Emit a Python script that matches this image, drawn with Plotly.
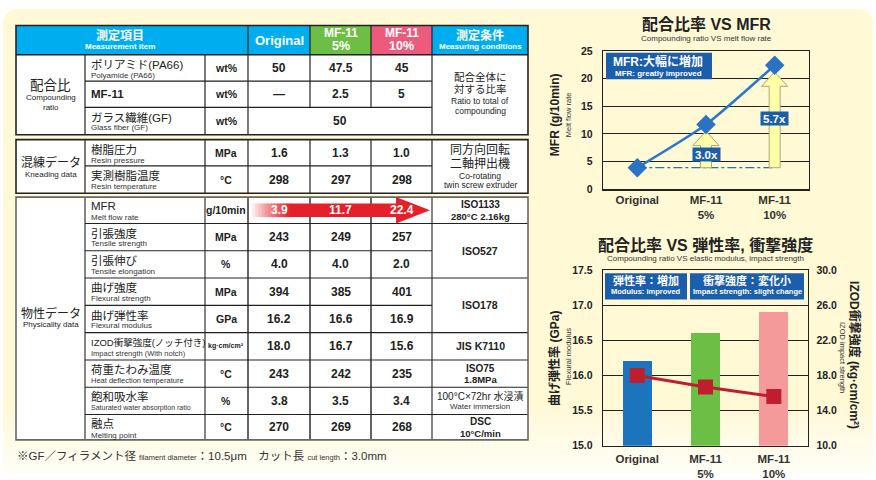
import plotly.graph_objects as go

W, H = 876, 480
FONT = "Liberation Sans, Noto Sans CJK JP, sans-serif"

# ---------------- data ----------------
sample_ticks = ["Original", "MF-11<br>5%", "MF-11<br>10%"]
header_colors = ["#00AEEF", "#6DBE45", "#EE5A7E"]

mfr = [3.9, 11.7, 22.4]
flex_modulus = [16.2, 16.6, 16.9]
izod_impact = [18.0, 16.7, 15.6]
bar_colors = ["#1C75BC", "#6CBF45", "#F49A9B"]

comp_jp = ["ポリアミド(PA66)", "MF-11", "ガラス繊維(GF)"]
comp_en = ["Polyamide (PA66)", "", "Glass fiber (GF)"]
comp_unit = ["wt%", "wt%", "wt%"]
polyamide_wt = ["50", "47.5", "45"]
mf11_wt = ["—", "2.5", "5"]
glass_fiber_wt = "50"

knead_jp = ["樹脂圧力", "実測樹脂温度"]
knead_en = ["Resin pressure", "Resin temperature"]
knead_unit = ["MPa", "°C"]
resin_pressure = [1.6, 1.3, 1.0]
resin_temperature = [298, 297, 298]

phys_jp = ["MFR", "引張強度", "引張伸び", "曲げ強度", "曲げ弾性率",
           "IZOD衝撃強度(ノッチ付き)", "荷重たわみ温度", "飽和吸水率", "融点"]
phys_en = ["Melt flow rate", "Tensile strength", "Tensile elongation", "Flexural strength",
           "Flexural modulus", "Impact strength (With notch)", "Heat deflection temperature",
           "Saturated water absorption ratio", "Melting point"]
phys_unit = ["g/10min", "MPa", "%", "MPa", "GPa", "kg·cm/cm²", "°C", "%", "°C"]
tensile_strength = [243, 249, 257]
tensile_elongation = [4.0, 4.0, 2.0]
flexural_strength = [394, 385, 401]
heat_deflection = [243, 242, 235]
water_absorption = [3.8, 3.5, 3.4]
melting_point = [270, 269, 268]

cond_comp_jp = ["配合全体に", "対する比率"]
cond_comp_en = ["Ratio to total of", "compounding"]
cond_knead_jp = ["同方向回転", "二軸押出機"]
cond_knead_en = ["Co-rotating", "twin screw extruder"]
phys_cond = [["ISO1133", "280°C 2.16kg"], ["ISO527"], ["ISO178"], ["JIS K7110"],
             ["ISO75", "1.8MPa"], ["100°C×72hr 水浸漬", "Water immersion"], ["DSC", "10°C/min"]]
phys_cond_span = [1, 2, 2, 1, 1, 1, 1]

# ---------------- helpers (pixel layout) ----------------
def px(x):
    return x / W

def py(y):
    return 1 - y / H

shapes = []
anns = []

def rect(x0, y0, x1, y1, fill, line=None, lw=0, layer="below", opacity=1.0):
    shapes.append(dict(type="rect", xref="paper", yref="paper",
                       x0=px(x0), x1=px(x1), y0=py(y1), y1=py(y0),
                       fillcolor=fill, line=dict(color=line or "rgba(0,0,0,0)", width=lw),
                       layer=layer, opacity=opacity))

def seg(x0, y0, x1, y1, color="#222", w=1.2):
    shapes.append(dict(type="line", xref="paper", yref="paper",
                       x0=px(x0), x1=px(x1), y0=py(y0), y1=py(y1),
                       line=dict(color=color, width=w), layer="above"))

def text(x, y, s, size=12, color="#222", bold=False, xanchor="center", angle=0):
    anns.append(dict(xref="paper", yref="paper", x=px(x), y=py(y), text=s, showarrow=False,
                     xanchor=xanchor, yanchor="middle", textangle=angle, borderpad=0,
                     font=dict(family=FONT, size=size, color=color, weight=700 if bold else 400)))

# ---------------- background ----------------
r = 16
L, R, T, B = 3, 873, 3, 480
bg_path = (f"M {px(L+r)} {py(T)} L {px(R-r)} {py(T)} Q {px(R)} {py(T)} {px(R)} {py(T+r)} "
           f"L {px(R)} {py(B)} L {px(L)} {py(B)} L {px(L)} {py(T+r)} Q {px(L)} {py(T)} {px(L+r)} {py(T)} Z")
shapes.append(dict(type="path", xref="paper", yref="paper", path=bg_path,
                   fillcolor="#FFF9D6", line=dict(width=0), layer="below"))
for i in range(14):
    rect(0, 410 + i * 5, W, 415 + i * 5, "white", layer="below", opacity=0.06 + i * 0.055)

# ---------------- table geometry ----------------
cols = [16, 85, 205, 248, 310, 371, 432, 528]
vc = [(cols[3] + cols[4]) / 2, (cols[4] + cols[5]) / 2, (cols[5] + cols[6]) / 2]
uc = (cols[2] + cols[3]) / 2
cc = (cols[6] + cols[7]) / 2
gc = (cols[0] + cols[1]) / 2
hdr = (20, 50)
g1 = [50, 77, 104, 132]
g2 = [137, 164, 192]
g3 = [196, 223, 251, 279, 307, 335, 363, 391, 419, 445]
DARK = "#222"

rect(cols[0], hdr[0], cols[3], hdr[1], "#00AEEF")
for i in range(3):
    rect(cols[3 + i], hdr[0], cols[4 + i], hdr[1], header_colors[i])
rect(cols[6], hdr[0], cols[7], hdr[1], "#00AEEF")
rect(cols[0], g1[0], cols[7], g1[-1], "white")
rect(cols[0], g2[0], cols[7], g2[-1], "white")
rect(cols[0], g3[0], cols[7], g3[-1], "white")

for x in cols[3:7]:
    seg(x, hdr[0], x, hdr[1])
seg(cols[0], hdr[1], cols[7], hdr[1], DARK, 1.4)
for x in [cols[1], cols[2], cols[3], cols[6]]:
    seg(x, g1[0], x, g1[-1])
for x in [cols[4], cols[5]]:
    seg(x, g1[0], x, g1[2])
for y in g1[1:-1]:
    seg(cols[1], y, cols[6], y)
for x in cols[1:7]:
    seg(x, g2[0], x, g2[-1])
for y in g2[1:-1]:
    seg(cols[1], y, cols[6], y)
for x in cols[1:7]:
    seg(x, g3[0], x, g3[-1], DARK, 1.4 if x in cols[3:6] else 1.1)
for y in g3[1:-1]:
    seg(cols[1], y, cols[6], y, DARK, 1.1)
acc = 0
for s in phys_cond_span[:-1]:
    acc += s
    seg(cols[6], g3[acc], cols[7], g3[acc], DARK, 1.1)

for (y0, y1, col) in [(hdr[0], g1[-1], DARK), (g2[0], g2[-1], DARK), (g3[0], g3[-1], "#666")]:
    shapes.append(dict(type="rect", xref="paper", yref="paper", x0=px(cols[0]), x1=px(cols[7]),
                       y0=py(y1), y1=py(y0), fillcolor="rgba(0,0,0,0)",
                       line=dict(color=col, width=1.6), layer="above"))

# MFR arrow in table (white-to-red gradient body + head)
red = (229, 32, 41)
ax0, ax1, ahead, atip = 252, 290, 396, 430
mfr_row_mid = (g3[0] + g3[1]) / 2
n = 12
for i in range(n):
    t = ((i + 0.5) / n) ** 0.8
    c = tuple(round(255 + (red[k] - 255) * t) for k in range(3))
    x0 = ax0 + (ax1 - ax0) * i / n
    x1 = ax0 + (ax1 - ax0) * (i + 1) / n + 0.5
    shapes.append(dict(type="rect", xref="paper", yref="paper", x0=px(x0), x1=px(x1),
                       y0=py(mfr_row_mid + 7), y1=py(mfr_row_mid - 7),
                       fillcolor=f"rgb{c}", line=dict(width=0), layer="above"))
shapes.append(dict(type="rect", xref="paper", yref="paper", x0=px(ax1), x1=px(ahead + 1),
                   y0=py(mfr_row_mid + 7), y1=py(mfr_row_mid - 7),
                   fillcolor=f"rgb{red}", line=dict(width=0), layer="above"))
shapes.append(dict(type="path", xref="paper", yref="paper",
                   path=f"M {px(ahead)} {py(mfr_row_mid-13.5)} L {px(atip)} {py(mfr_row_mid)} L {px(ahead)} {py(mfr_row_mid+13.5)} Z",
                   fillcolor=f"rgb{red}", line=dict(width=0), layer="above"))

# header texts
text(120, 30, "測定項目", 12, "white", True)
text(120, 42, "Measurement item", 8, "white", True)
text(vc[0], 35, "Original", 13, "white", True)
for i in (1, 2):
    name, pct = sample_ticks[i].split("<br>")
    text(vc[i], 28, name, 12, "white", True)
    text(vc[i], 41.5, pct, 12.5, "white", True)
text(cc, 30, "測定条件", 12, "white", True)
text(cc, 42, "Measuring conditions", 8, "white", True)

# group labels
text(gc, 82, "配合比", 13.5)
text(gc, 94, "Compounding", 8)
text(gc, 104, "ratio", 8)
text(gc, 161, "混練データ", 12)
text(gc, 172.5, "Kneading data", 8)
text(gc, 315, "物性データ", 12)
text(gc, 326.5, "Physicality data", 8)

def row_label(top, bottom, jp, en, unit, jp_size=11.5, en_size=8, unit_size=10.5):
    if en:
        text(cols[1] + 5, top + 10, jp, jp_size, xanchor="left")
        text(cols[1] + 5, top + 21, en, en_size, "#333", xanchor="left")
    else:
        text(cols[1] + 5, (top + bottom) / 2, jp, jp_size, bold=True, xanchor="left")
    text(uc, (top + bottom) / 2, unit, unit_size, bold=True)

comp_values = [polyamide_wt, mf11_wt, None]
for i in range(3):
    row_label(g1[i], g1[i + 1], comp_jp[i], comp_en[i], comp_unit[i])
    mid = (g1[i] + g1[i + 1]) / 2
    if comp_values[i] is not None:
        for j in range(3):
            text(vc[j], mid, comp_values[i][j], 12, bold=True)
    else:
        text((cols[3] + cols[6]) / 2, mid, glass_fiber_wt, 12, bold=True)
text(cc, 72.5, cond_comp_jp[0], 10.5)
text(cc, 85, cond_comp_jp[1], 10.5)
text(cc, 97.5, cond_comp_en[0], 8.5)
text(cc, 107.5, cond_comp_en[1], 8.5)

knead_values = [[f"{v:.1f}" for v in resin_pressure], [str(v) for v in resin_temperature]]
for i in range(2):
    row_label(g2[i], g2[i + 1], knead_jp[i], knead_en[i], knead_unit[i])
    mid = (g2[i] + g2[i + 1]) / 2
    for j in range(3):
        text(vc[j], mid, knead_values[i][j], 12, bold=True)
text(cc, 147.5, cond_knead_jp[0], 12)
text(cc, 162, cond_knead_jp[1], 12)
text(cc, 174, cond_knead_en[0], 8.5)
text(cc, 184, cond_knead_en[1], 8.5)

phys_values = [
    [f"{v:.1f}" for v in mfr],
    [str(v) for v in tensile_strength],
    [f"{v:.1f}" for v in tensile_elongation],
    [str(v) for v in flexural_strength],
    [f"{v:.1f}" for v in flex_modulus],
    [f"{v:.1f}" for v in izod_impact],
    [str(v) for v in heat_deflection],
    [f"{v:.1f}" for v in water_absorption],
    [str(v) for v in melting_point],
]
for i in range(9):
    top, bot = g3[i], g3[i + 1]
    jp_size = 9.5 if i == 5 else 11.5
    en_size = 7 if i == 7 else (7.5 if i in (5, 6) else 8)
    unit_size = 7 if i == 5 else 10.5
    if i == 0:
        text(cols[1] + 5, top + 9.5, phys_jp[i], 11.5, xanchor="left")
        text(cols[1] + 5, top + 20.5, phys_en[i], 8, "#333", xanchor="left")
        text(uc, (top + bot) / 2, phys_unit[i], 10.5, bold=True)
    else:
        row_label(top, bot, phys_jp[i], phys_en[i], phys_unit[i], jp_size, en_size, unit_size)
    mid = (top + bot) / 2
    for j in range(3):
        text(vc[j], mid, phys_values[i][j], 12, "white" if i == 0 else "#222", True)

acc = 0
for k, (lines, span) in enumerate(zip(phys_cond, phys_cond_span)):
    top, bot = g3[acc], g3[acc + span]
    acc += span
    mid = (top + bot) / 2
    if len(lines) == 1:
        text(cc, mid, lines[0], 10.5, bold=True)
    elif k == 5:
        text(cc, mid - 4.5, lines[0], 10)
        text(cc, mid + 5.5, lines[1], 8, "#333")
    else:
        text(cc, mid - 5.5, lines[0], 10, bold=True)
        text(cc, mid + 6, lines[1], 9.5, bold=True)

# footnote
text(16, 462, "※GF／フィラメント径 <span style='font-size:7.5px'>filament diameter</span>：10.5μm　"
     "カット長 <span style='font-size:7.5px'>cut length</span>：3.0mm", 11.5, "#333", xanchor="left")

# ---------------- chart 1: MFR ----------------
fig = go.Figure()
xs = [0, 1, 2]
base = mfr[0]
fig.add_trace(go.Scatter(x=[0, 2], y=[base, base], mode="lines",
                         line=dict(color="#2A6FC0", width=1.3, dash="dashdot"),
                         xaxis="x", yaxis="y", hoverinfo="skip", showlegend=False))
gap, head_len, head_w, body_w = 1.2, 2.6, 0.19, 0.08
ratio_pos = []
for i in (1, 2):
    tip = mfr[i] - gap
    hb = tip - head_len
    ax = [i - body_w, i - body_w, i - head_w, i, i + head_w, i + body_w, i + body_w, i - body_w]
    ay = [base, hb, hb, tip, hb, hb, base, base]
    fig.add_trace(go.Scatter(x=ax, y=ay, mode="lines", fill="toself", fillcolor="#FFFFA8",
                             line=dict(color="#A9A77A", width=1), xaxis="x", yaxis="y",
                             hoverinfo="skip", showlegend=False))
    ratio_pos.append((i, base + 0.6 * (hb - base), f"{mfr[i] / mfr[0]:.1f}x"))
fig.add_trace(go.Scatter(x=xs, y=mfr, mode="lines+markers",
                         line=dict(color="#2A78C8", width=2.5, shape="spline", smoothing=0.6),
                         marker=dict(symbol="diamond", size=15, color="#2A72C2"),
                         xaxis="x", yaxis="y", showlegend=False))
for (xi, yi, lab) in ratio_pos:
    anns.append(dict(x=xi, y=yi, xref="x", yref="y", text=f"<b>{lab}</b>", showarrow=False,
                     bgcolor="#1B5EAB", borderpad=1, width=25, height=11,
                     font=dict(family=FONT, size=11.5, color="white")))

# ---------------- chart 2: modulus / impact ----------------
fig.add_trace(go.Bar(x=xs, y=flex_modulus, marker=dict(color=bar_colors, line=dict(width=0)),
                     width=0.42, xaxis="x2", yaxis="y2", showlegend=False))
fig.add_trace(go.Scatter(x=xs, y=izod_impact, mode="lines+markers",
                         line=dict(color="#BE1E2D", width=3),
                         marker=dict(symbol="square", size=15, color="#BE1E2D"),
                         xaxis="x2", yaxis="y3", showlegend=False))

# chart titles and axis titles
text(706, 19, "配合比率 VS MFR", 16, "#222", True)
text(706, 33.5, "Compounding ratio VS melt flow rate", 8, "#333")
text(555, 112, "MFR (g/10min)", 12, "#222", True, angle=-90)
text(568, 112, "Melt flow rate", 7.5, "#333", angle=-90)

text(705, 245, "配合比率 VS 弾性率, 衝撃強度", 16, "#222", True)
text(705, 259, "Compounding ratio VS elastic modulus, impact strength", 8, "#333")
text(555, 362, "曲げ弾性率 (GPa)", 12, "#222", True, angle=-90)
text(568, 360, "Flexural modulus", 7.5, "#333", angle=-90)
text(855, 358, "IZOD衝撃強度 (kg·cm/cm²)", 12, "#222", True, angle=90)
text(843, 360, "IZOD impact strength", 7.5, "#333", angle=90)

# blue info boxes
BOX = "#1B5EAB"
rect(606, 48, 712, 75, BOX, layer="above")
text(658, 56.5, "MFR:大幅に増加", 12, "white", True)
text(658, 69, "MFR: greatly improved", 8, "white", True)
rect(605, 274, 687, 301, BOX, layer="above")
text(646, 282, "弾性率：増加", 11, "white", True)
text(646, 293, "Modulus: improved", 7.5, "white", True)
rect(690, 274, 804, 301, BOX, layer="above")
text(747, 282, "衝撃強度：変化小", 11, "white", True)
text(747, 293, "Impact strength: slight change", 7.5, "white", True)

tickf = dict(family=FONT, size=10.5, color="#222", weight=700)
xcommon = dict(range=[-0.5, 2.5], tickvals=xs, ticktext=sample_ticks, showgrid=False,
               zeroline=False, showline=True, mirror=True, linecolor="#222", linewidth=1.3,
               ticks="", tickfont=dict(family=FONT, size=11.5, color="#333", weight=700),
               fixedrange=True)
fig.update_layout(
    width=W, height=H, margin=dict(l=0, r=0, t=0, b=0),
    paper_bgcolor="white", plot_bgcolor="white",
    font=dict(family=FONT),
    xaxis=dict(domain=[px(603), px(809)], anchor="y", **xcommon),
    yaxis=dict(domain=[py(188), py(46)], anchor="x", range=[0, 25], dtick=5,
               showgrid=True, gridcolor="#222", gridwidth=1, zeroline=False,
               showline=True, mirror=True, linecolor="#222", linewidth=1.3,
               ticks="", tickfont=tickf, ticklabelstandoff=7, fixedrange=True),
    xaxis2=dict(domain=[px(603), px(808)], anchor="y2", ticklabelstandoff=2, **xcommon),
    yaxis2=dict(domain=[py(451), py(271)], anchor="x2", range=[15, 17.5], dtick=0.5,
                tickformat=".1f", showgrid=True, gridcolor="#222", gridwidth=1, zeroline=False,
                showline=True, linecolor="#222", linewidth=1.3,
                ticks="", tickfont=tickf, ticklabelstandoff=7, fixedrange=True),
    yaxis3=dict(overlaying="y2", anchor="x2", side="right", range=[10, 30], tick0=10, dtick=4,
                tickformat=".1f", showgrid=False, zeroline=False, showline=True,
                linecolor="#222", linewidth=1.3, ticks="", tickfont=tickf,
                ticklabelstandoff=5, fixedrange=True),
    shapes=shapes, annotations=anns, showlegend=False, bargap=0,
)

fig.write_html("out.html", config=dict(displayModeBar=False, staticPlot=True),
               post_script="document.body.style.margin='0';")
